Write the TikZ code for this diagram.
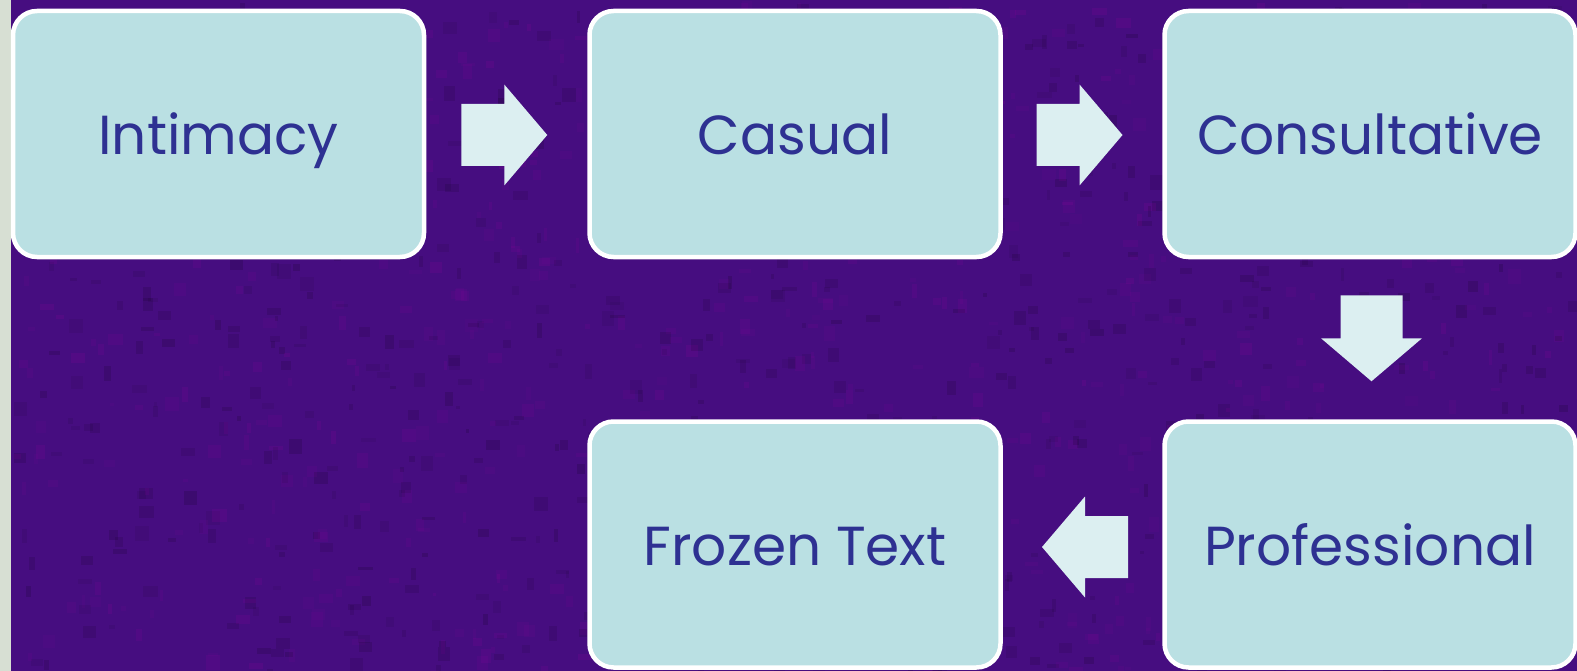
\documentclass[tikz,border=0pt]{standalone}
\usepackage{fontspec}
\setmainfont{Poppins}
\usetikzlibrary{calc}
\definecolor{bgpurple}{RGB}{70,13,128}
\definecolor{stripc}{RGB}{215,223,211}
\definecolor{boxfill}{RGB}{186,224,227}
\definecolor{arrowfill}{RGB}{220,239,241}
\definecolor{textblue}{RGB}{46,49,146}
\tikzset{
  stagebox/.style={draw=white, line width=4.5pt, fill=boxfill, rounded corners=24pt,
    minimum width=411pt, minimum height=246pt, inner sep=0pt, outer sep=0pt,
    text=textblue, font=\fontsize{55}{60}\selectfont, text height=42pt, text depth=0pt},
  blockarr/.style={fill=arrowfill}
}
\newcommand\blockarrow[2]{%
  \fill[blockarr,shift={#1},rotate=#2] (-43,-31) -- (0,-31) -- (0,-50.5) -- (43,0) -- (0,50.5) -- (0,31) -- (-43,31) -- cycle;}
\begin{document}
\begin{tikzpicture}[x=1pt,y=-1pt]
\useasboundingbox (0,0) rectangle (1577,671);
\fill[bgpurple] (0,0) rectangle (1577,671);
\pgfmathsetseed{7}
\foreach \i in {1,...,1400}{
  \pgfmathsetmacro{\xx}{11+rnd*1566}
  \pgfmathsetmacro{\yy}{rnd*671}
  \pgfmathsetmacro{\ww}{3+rnd*12}
  \pgfmathsetmacro{\hh}{3+rnd*12}
  \pgfmathsetmacro{\op}{0.05+rnd*0.08}
  \pgfmathparse{rnd>0.5 ? 1 : 0}
  \ifnum\pgfmathresult=1
    \fill[black,opacity=\op] (\xx,\yy) rectangle ++(\ww,\hh);
  \else
    \fill[violet!70!magenta,opacity=\op] (\xx,\yy) rectangle ++(\ww,\hh);
  \fi
}
\fill[stripc] (0,0) rectangle (11,671);
\node[stagebox] (b1) at (218.5,134) {Intimacy};
\node[stagebox] (b2) at (795,134) {Casual};
\node[stagebox] (b3) at (1370,134) {Consultative};
\node[stagebox] (b4) at (1370,544.5) {Professional};
\node[stagebox] (b5) at (795,544.5) {Frozen Text};
\coordinate (m12) at ($(b1.east)!0.5!(b2.west)+(-2.5,1)$);
\coordinate (m23) at ($(b2.east)!0.5!(b3.west)+(-3,1)$);
\coordinate (m34) at ($(b3.south)!0.5!(b4.north)+(1.5,-1)$);
\coordinate (m45) at ($(b4.west)!0.5!(b5.east)+(2.5,2.5)$);
\blockarrow{(m12)}{0}
\blockarrow{(m23)}{0}
\blockarrow{(m34)}{-90}
\blockarrow{(m45)}{180}
\end{tikzpicture}
\end{document}
